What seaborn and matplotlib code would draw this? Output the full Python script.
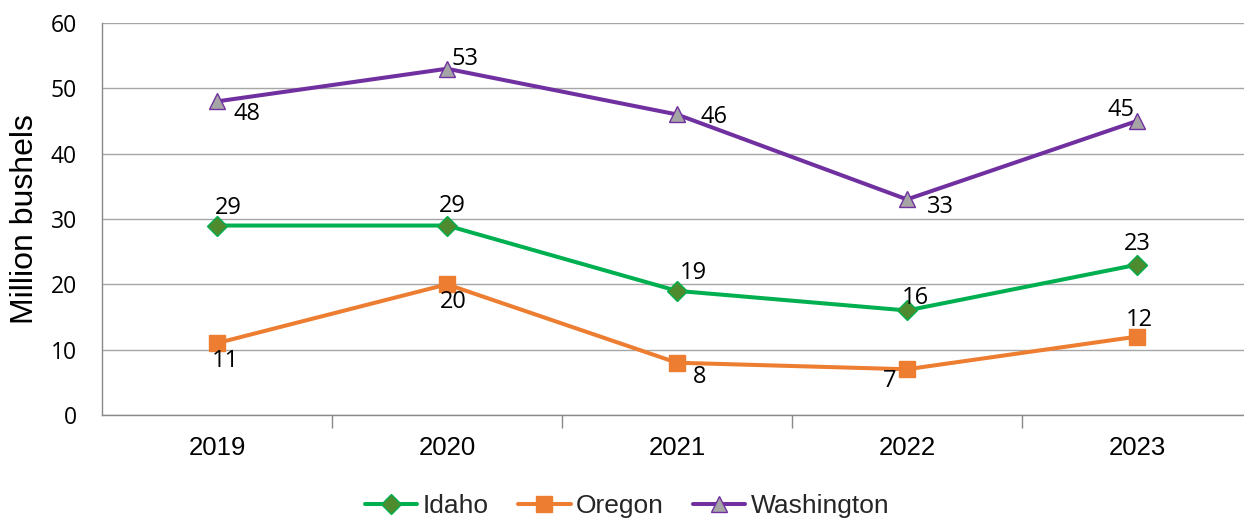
import matplotlib
matplotlib.use("Agg")
import matplotlib.pyplot as plt
from matplotlib.ticker import FixedLocator
import seaborn as sns
import pandas as pd

years = ["2019", "2020", "2021", "2022", "2023"]
idaho = [29, 29, 19, 16, 23]
oregon = [11, 20, 8, 7, 12]
washington = [48, 53, 46, 33, 45]
yticks = [0, 10, 20, 30, 40, 50, 60]

sns.set_theme(style="white")
plt.rcParams['font.family'] = ['Liberation Sans', 'DejaVu Sans']

fig = plt.figure(figsize=(12.44, 5.19), dpi=100)
ax = fig.add_axes([102/1244, 104/519, 1150/1244, 392/519])

series = [
    ("Idaho", idaho, "#00B050", "D", "#4E8A2E", "#00B050", 10,
     [(11, -18), (5, -20), (16, -18), (8, -12), (0, -21)]),
    ("Oregon", oregon, "#ED7D31", "s", "#ED7D31", "#ED7D31", 12,
     [(8, 18), (6, 18), (23, 14), (-17, 12), (2, -17)]),
    ("Washington", washington, "#7030A0", "^", "#A5A5A5", "#7030A0", 12,
     [(30, 13), (18, -10), (37, 3), (33, 8), (-16, -11)]),
]

xs = list(range(len(years)))
handles = []
for name, vals, col, mk, mfc, mec, ms, offs in series:
    df = pd.DataFrame({"x": xs, "y": vals})
    sns.lineplot(data=df, x="x", y="y", ax=ax, color=col, linewidth=2.9,
                 marker=mk, markersize=ms, markerfacecolor=mfc,
                 markeredgecolor=mec, markeredgewidth=1, label=name,
                 legend=False)
    handles.append(ax.lines[-1])
    for xi, v, (dx, dy) in zip(xs, vals, offs):
        ax.annotate(str(v), (xi, v), xytext=(dx * 0.72, -dy * 0.72),
                    textcoords="offset points", ha="center", va="center",
                    fontsize=17, family=["Open Sans", "DejaVu Sans"],
                    color="black")

ax.set_xlim(-0.5, 4.5)
ax.set_ylim(0, 60)
ax.set_yticks(yticks, [str(t) for t in yticks])
ax.tick_params(axis="y", length=0, pad=18, labelsize=16.5,
               labelcolor="black", labelfontfamily="Open Sans")
ax.set_xticks(xs, years)
ax.tick_params(axis="x", which="major", length=0, pad=15, labelsize=18.5,
               labelcolor="black")
ax.xaxis.set_minor_locator(FixedLocator([0.5, 1.5, 2.5, 3.5, 4.5]))
ax.tick_params(axis="x", which="minor", length=9, width=1, color="#898989",
               direction="out", bottom=True)
ax.grid(axis="y", color="#A6A6A6", linewidth=1)
ax.set_axisbelow(True)
for s in ["top", "right"]:
    ax.spines[s].set_visible(False)
for s in ["left", "bottom"]:
    ax.spines[s].set_color("#898989")
    ax.spines[s].set_linewidth(1)
ax.set_xlabel("")
ax.set_ylabel("Million bushels", fontsize=23, labelpad=8, color="black")

fig.legend(handles, ["Idaho", "Oregon", "Washington"], loc="center",
           bbox_to_anchor=(627/1244, 1 - 506/519), ncol=3, frameon=False,
           fontsize=19, handlelength=2.0, columnspacing=1.1, handletextpad=0.2,
           numpoints=1, borderpad=0)

fig.savefig("out.png", dpi=100)
